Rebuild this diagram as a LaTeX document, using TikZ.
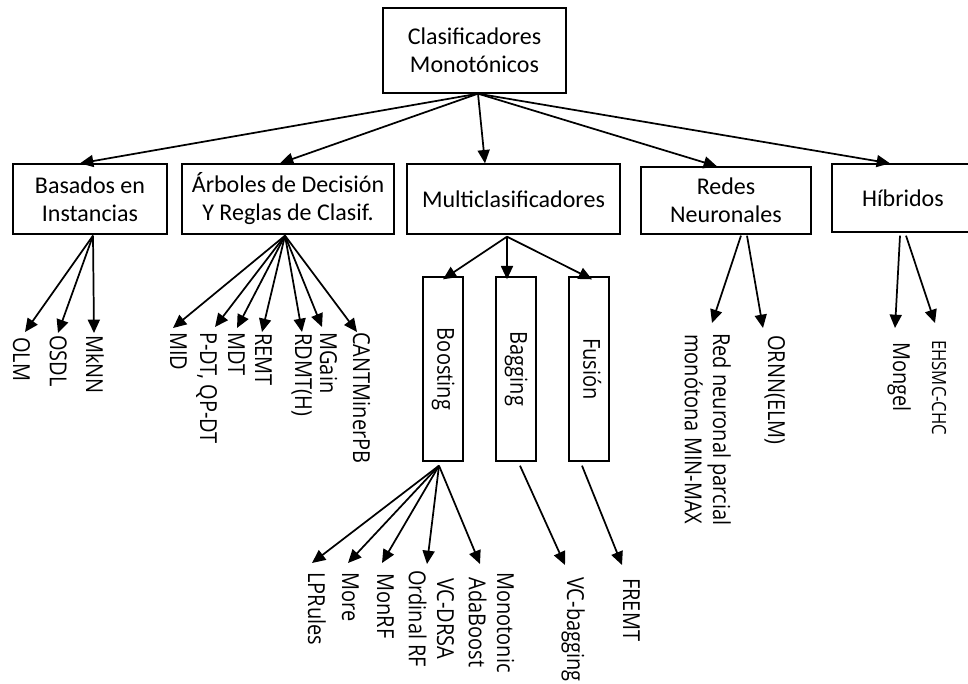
\documentclass[tikz,border=0pt]{standalone}
\usepackage{fontspec}
\setmainfont{Carlito}
\newfontfamily\leaffont{Open Sans}
\usetikzlibrary{arrows.meta,calc}

% vertically stretched, centred stack of lines (used for the turned labels)
\newcommand{\stretchtext}[1]{\scalebox{1}[1.17]{\begin{tabular}[t]{@{}c@{}}#1\end{tabular}}}

\begin{document}
\begin{tikzpicture}[x=0.75pt,y=-0.75pt,
  box/.style={draw, line width=1pt, inner sep=0pt, align=center,
              font=\fontsize{18}{21}\selectfont},
  subbox/.style={draw, line width=1pt, inner sep=0pt,
              minimum width=30pt, minimum height=138pt,
              font=\leaffont\fontsize{15}{18}\selectfont},
  leaf/.style={inner sep=0pt, rotate=-90, anchor=base west,
              font=\leaffont\fontsize{15}{18}\selectfont},
  smallleaf/.style={leaf, font=\leaffont\fontsize{12.5}{15}\selectfont},
  arr/.style={line width=1.3pt, -{Triangle[length=10pt,width=9pt]}}]

\useasboundingbox (0,0) rectangle (968,684);
\clip (0,0) rectangle (968,684);

% ---- top level ----
\node[box, minimum width=137.25pt, minimum height=63.75pt] (root) at (474.5,50.5)
  {Clasificadores\\Monotónicos};

% ---- families ----
\node[box, minimum width=115.5pt, minimum height=52.5pt] (inst) at (90,199)
  {Basados en\\Instancias};
\node[box, minimum width=159pt, minimum height=52.5pt] (arb) at (288,199)
  {Árboles de Decisión\\Y Reglas de Clasif.};
\node[box, minimum width=159.75pt, minimum height=52.5pt] (multi) at (513.5,199)
  {Multiclasificadores};
\node[box, minimum width=127.5pt, minimum height=50.25pt] (redes) at (726,200.5)
  {Redes\\Neuronales};
\node[box, minimum width=106.5pt, minimum height=51pt] (hib) at (903,198)
  {Híbridos};

\draw[arr] ($(root.south)+(3.5,0)$) -- ($(inst.north)+(-10,0)$);
\draw[arr] ($(root.south)+(3.5,0)$) -- ($(arb.north)+(-8,0)$);
\draw[arr] ($(root.south)+(3.5,0)$) -- ($(multi.north)+(-28.5,0)$);
\draw[arr] ($(root.south)+(3.5,0)$) -- ($(redes.north)+(-9,0)$);
\draw[arr] ($(root.south)+(3.5,0)$) -- ($(hib.north)+(-13,0)$);

% ---- ensemble sub-groups ----
\node[subbox] (boost) at (443,369) {\rotatebox{-90}{\stretchtext{Boosting}}};
\node[subbox] (bagg)  at (516,369) {\rotatebox{-90}{\stretchtext{Bagging}}};
\node[subbox] (fus)   at (589,369) {\rotatebox{-90}{\stretchtext{Fusión}}};

\draw[arr] ($(multi.south)+(-6.5,2)$) -- ($(boost.north)+(0,3)$);
\draw[arr] ($(multi.south)+(-6.5,2)$) -- ($(bagg.north)+(-9,3)$);
\draw[arr] ($(multi.south)+(-6.5,2)$) -- ($(fus.north)+(3,3)$);

% ---- instance based ----
\node[leaf] (olm)  at (13,337) {\stretchtext{OLM}};
\node[leaf] (osdl) at (50,335) {\stretchtext{OSDL}};
\node[leaf] (mknn) at (86,335) {\stretchtext{MkNN}};
\draw[arr] ($(inst.south)+(3,1)$) -- ($(olm.base west)+(12,-5)$);
\draw[arr] ($(inst.south)+(3,1)$) -- ($(osdl.base west)+(8,-2)$);
\draw[arr] ($(inst.south)+(3,1)$) -- ($(mknn.base west)+(8,-2)$);

% ---- trees and rules ----
\node[leaf] (mid)   at (170,332) {\stretchtext{MID}};
\node[leaf] (pdt)   at (200,332) {\stretchtext{P-DT, QP-DT}};
\node[leaf] (mdt)   at (228,332) {\stretchtext{MDT}};
\node[leaf] (remt)  at (255,333) {\stretchtext{REMT}};
\node[leaf] (rdmt)  at (295,333) {\stretchtext{RDMT(H)}};
\node[leaf] (mgain) at (320,332) {\stretchtext{MGain}};
\node[leaf] (cant)  at (353,332) {\stretchtext{CANTMinerPB}};
\draw[arr] ($(arb.south)+(-3,1)$) -- ($(mid.base west)+(3,-4)$);
\draw[arr] ($(arb.south)+(-3,1)$) -- ($(pdt.base west)+(15,-5)$);
\draw[arr] ($(arb.south)+(-3,1)$) -- ($(mdt.base west)+(9,-4)$);
\draw[arr] ($(arb.south)+(-3,1)$) -- ($(remt.base west)+(7,-1)$);
\draw[arr] ($(arb.south)+(-3,1)$) -- ($(rdmt.base west)+(7,-1)$);
\draw[arr] ($(arb.south)+(-3,1)$) -- ($(mgain.base west)+(2,-5)$);
\draw[arr] ($(arb.south)+(-3,1)$) -- ($(cant.base west)+(4,0)$);

% ---- boosting / bagging / fusion methods ----
\node[leaf] (lpr)   at (308,572) {\stretchtext{LPRules}};
\node[leaf] (more)  at (342,572) {\stretchtext{More}};
\node[leaf] (monrf) at (377,573) {\stretchtext{MonRF}};
\node[leaf] (vcd)   at (437,570) {\stretchtext{VC-DRSA\\Ordinal RF}};
\node[leaf] (mada)  at (497,572) {\stretchtext{Monotonic\\AdaBoost}};
\node[leaf] (vcbag) at (567,577) {\stretchtext{VC-bagging}};
\node[leaf] (fremt) at (623,578) {\stretchtext{FREMT}};
\draw[arr] ($(boost.south)+(-4,4)$) -- ($(lpr.base west)+(4,-9)$);
\draw[arr] ($(boost.south)+(-4,4)$) -- ($(more.base west)+(6,-9)$);
\draw[arr] ($(boost.south)+(-4,4)$) -- ($(monrf.base west)+(5,-10)$);
\draw[arr] ($(boost.south)+(-4,4)$) -- ($(vcd.base west)+(-10,-6)$);
\draw[arr] ($(boost.south)+(-4,4)$) -- ($(mada.base west)+(-17,-8)$);
\draw[arr] ($(bagg.south)+(4,4)$)   -- ($(vcbag.base west)+(-2,-12)$);
\draw[arr] ($(fus.south)+(-7,4)$)   -- ($(fremt.base west)+(-1,-13)$);

% ---- neural networks ----
\node[leaf] (rnp)  at (713,333) {\stretchtext{Red neuronal parcial\\monótona MIN-MAX}};
\node[leaf] (ornn) at (768,335) {\stretchtext{ORNN(ELM)}};
\draw[arr] ($(redes.south)+(15,1)$) -- ($(rnp.base west)+(-1,-10)$);
\draw[arr] ($(redes.south)+(21,1)$) -- ($(ornn.base west)+(-5,-7)$);

% ---- hybrids ----
\node[leaf] (mongel) at (893,342) {\stretchtext{Mongel}};
\node[smallleaf] (ehsmc) at (932,340) {\stretchtext{EHSMC-CHC}};
\draw[arr] ($(hib.south)+(-3,3)$) -- ($(mongel.base west)+(2,-14)$);
\draw[arr] ($(hib.south)+(3,3)$)  -- ($(ehsmc.base west)+(3,-17)$);

\end{tikzpicture}
\end{document}
